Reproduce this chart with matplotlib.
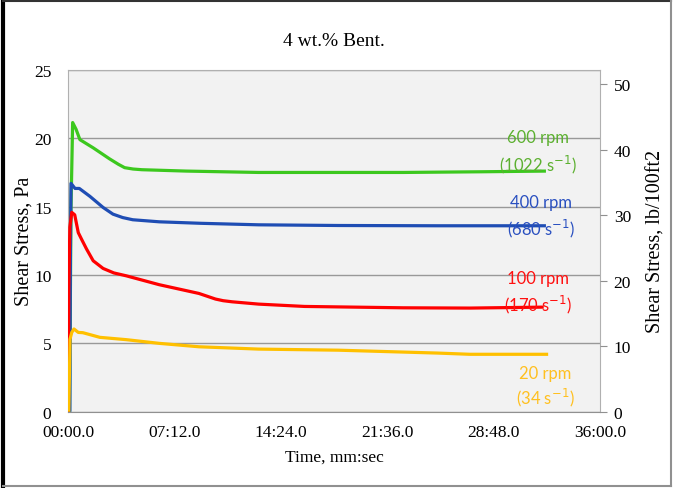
import numpy as np
import matplotlib.pyplot as plt
from matplotlib.ticker import FuncFormatter, MultipleLocator
from matplotlib.lines import Line2D

# time in minutes, shear stress in Pa
t_600 = [0.1, 0.2, 0.31, 0.54, 0.8, 1.7, 2.8, 3.4, 3.83, 4.4, 5.0, 8.0, 12.9, 18.0, 22.7, 28.0, 32.35]
v_600 = [0.0, 15.0, 21.15, 20.66, 19.9, 19.3, 18.5, 18.1, 17.85, 17.75, 17.7, 17.6, 17.5, 17.5, 17.5, 17.55, 17.6]

t_400 = [0.12, 0.16, 0.2, 0.47, 0.76, 1.48, 2.37, 3.04, 3.7, 4.38, 6.17, 9.0, 12.9, 18.3, 25.0, 32.35]
v_400 = [0.0, 12.0, 16.7, 16.33, 16.33, 15.75, 14.94, 14.45, 14.2, 14.04, 13.89, 13.78, 13.67, 13.62, 13.6, 13.6]

t_100 = [0.0, 0.05, 0.12, 0.25, 0.45, 0.69, 0.92, 1.25, 1.7, 2.37, 3.1, 3.94, 6.17, 8.86, 9.98, 10.5, 11.1,
         12.9, 16.0, 22.7, 27.2, 32.2]
v_100 = [0.0, 9.0, 13.5, 14.58, 14.4, 13.1, 12.6, 11.9, 11.04, 10.48, 10.15, 9.94, 9.29, 8.65, 8.24, 8.12, 8.04,
         7.87, 7.7, 7.6, 7.58, 7.65]

t_20 = [0.05, 0.13, 0.25, 0.4, 0.69, 1.0, 2.15, 3.94, 6.17, 8.86, 12.9, 18.3, 25.0, 27.2, 32.5]
v_20 = [0.0, 5.3, 5.8, 6.05, 5.8, 5.78, 5.44, 5.27, 5.0, 4.75, 4.58, 4.5, 4.29, 4.2, 4.2]

labels = [("600 rpm", "1022"), ("400 rpm", "680"), ("100 rpm", "170"), ("20 rpm", "34")]
line_colors = ["#3cc81e", "#1f4db4", "#ff0000", "#ffc000"]
text_colors = ["#5cb030", "#2a50c0", "#ff1010", "#ffc020"]

x_ticks = [0, 7.2, 14.4, 21.6, 28.8, 36.0]

plt.rcParams['font.family'] = ['Liberation Serif']

fig = plt.figure(figsize=(6.74, 4.89), dpi=100)
ax = fig.add_axes([0.101, 0.156, 0.789, 0.699])
ax.set_facecolor('#f2f2f2')

series = [(t_600, v_600), (t_400, v_400), (t_100, v_100), (t_20, v_20)]
for (t, v), c in zip(series, line_colors):
    ax.plot(t, v, color=c, lw=2.3, solid_capstyle='butt', solid_joinstyle='round', zorder=3)

ax.set_xlim(0, 36)
ax.set_ylim(0, 25)
ax.set_xticks(x_ticks)


def fmt_time(m, pos):
    total = m * 60
    mm = int(total // 60)
    ss = total - mm * 60
    return "%02d:%04.1f" % (mm, ss)


ax.xaxis.set_major_formatter(FuncFormatter(fmt_time))
ax.yaxis.set_major_locator(MultipleLocator(5))
ax.grid(axis='y', color='#999999', lw=1.0)
ax.set_axisbelow(True)
ax.tick_params(axis='x', length=0, labelsize=12.5, pad=9)
ax.tick_params(axis='y', length=0, labelsize=12.5, pad=12)
for s in ax.spines.values():
    s.set_color('#b0b0b0')
ax.spines['bottom'].set_color('#909090')

ax2 = ax.twinx()
ax2.set_ylim(0, 25 * 2.0885)
ax2.yaxis.set_major_locator(MultipleLocator(10))
ax2.tick_params(axis='y', length=5, color='#909090', labelsize=12.5, pad=5)
for s in ax2.spines.values():
    s.set_visible(False)

ax.set_ylabel("Shear Stress, Pa", fontsize=14.5)
ax.yaxis.set_label_coords(-0.064, 0.5)
ax2.set_ylabel("Shear Stress, lb/100ft2", fontsize=14.5)
ax2.yaxis.set_label_coords(1.088, 0.5)
ax.set_xlabel("Time, mm:sec", fontsize=12.5, labelpad=6)
ax.set_title("4 wt.% Bent.", fontsize=14, pad=18)

# curve labels (positions in data units)
lab_pos = [(31.8, 20.1, 18.15), (32.0, 15.37, 13.45), (31.8, 9.8, 7.9), (32.3, 2.85, 1.05)]
for (name, rate), (x, y1, y2), c in zip(labels, lab_pos, text_colors):
    ax.text(x, y1, name, color=c, fontsize=12, family='Lato', ha='center', va='center', zorder=4)
    ax.text(x, y2, "(%s s$^{-1}$)" % rate, color=c, fontsize=12, family='Lato',
            ha='center', va='center', zorder=4)

# figure border
fig.add_artist(Line2D([0.004, 0.004], [0.004, 0.996], color='black', lw=3, transform=fig.transFigure))
fig.add_artist(Line2D([0.004, 0.996], [0.996, 0.996], color='#333333', lw=1.5, transform=fig.transFigure))
fig.add_artist(Line2D([0.004, 0.996], [0.004, 0.004], color='#909090', lw=1.5, transform=fig.transFigure))
fig.add_artist(Line2D([0.996, 0.996], [0.004, 0.996], color='#909090', lw=1.5, transform=fig.transFigure))

plt.savefig('out.png', dpi=100)
